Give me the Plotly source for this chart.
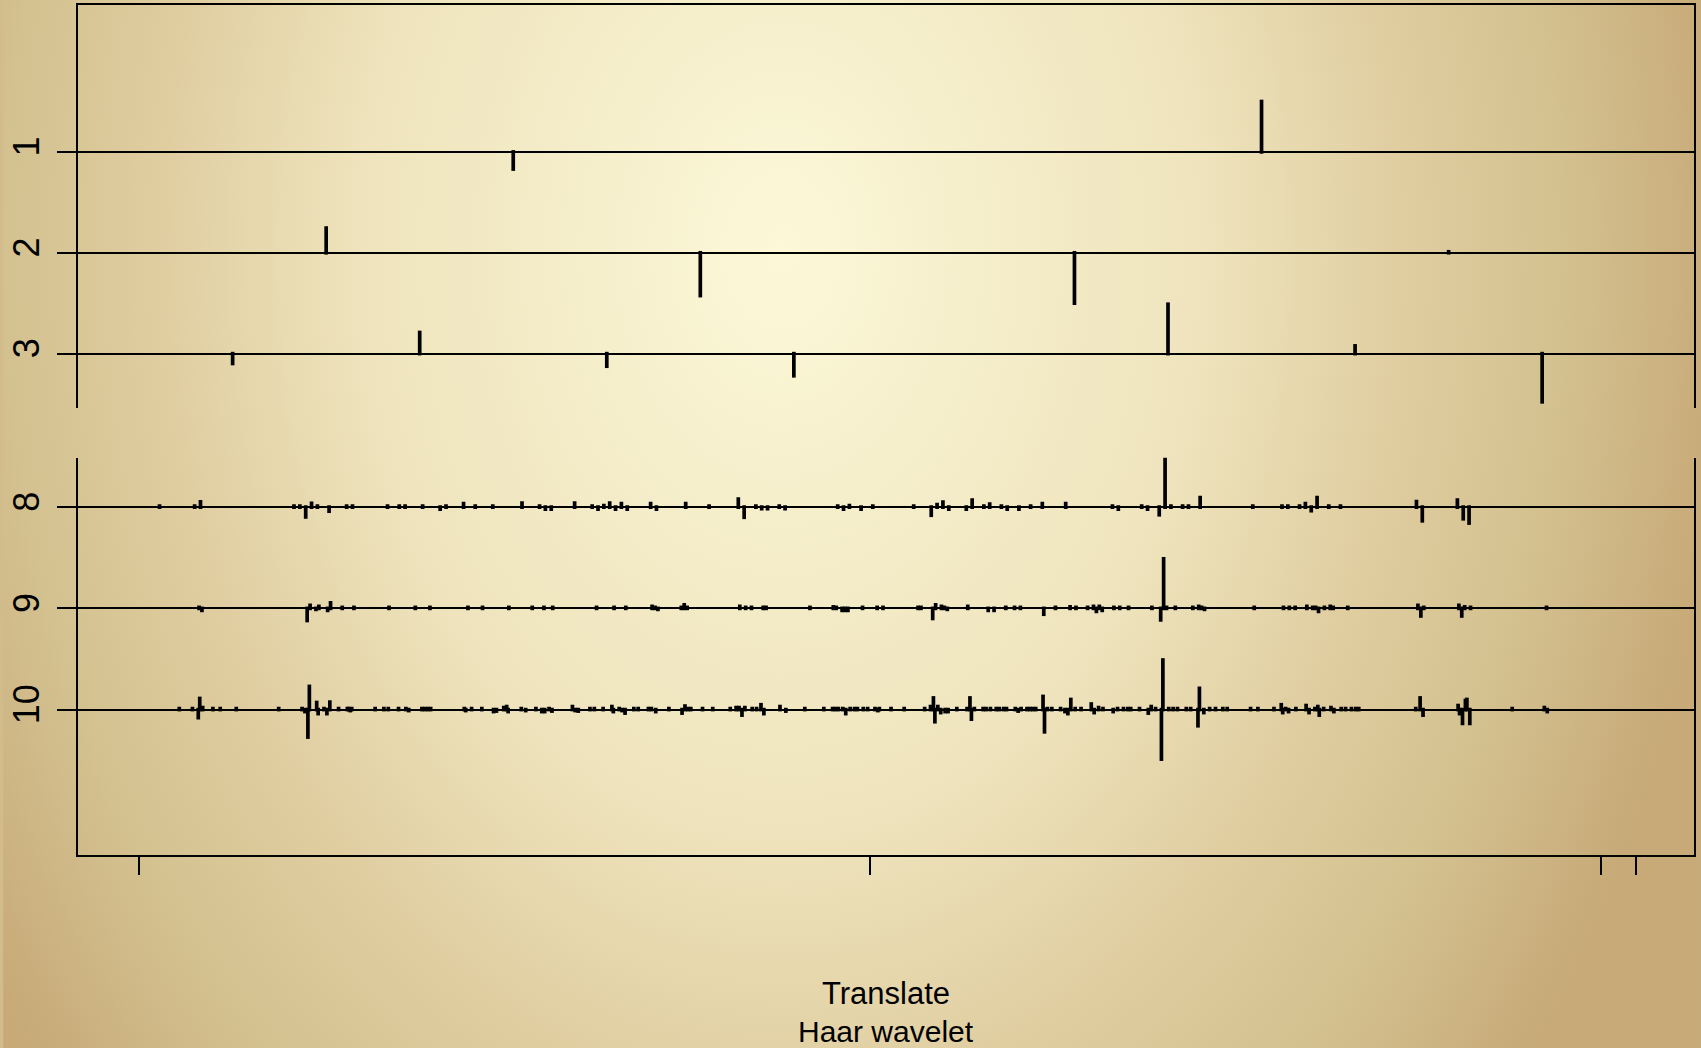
import base64
import plotly.graph_objects as go

# ---------------- data (translate position, coefficient value in level units) -------------
levels_top = [1, 2, 3]
levels_bottom = [8, 9, 10]
tick_translate = [0, 500, 1000, 1024]

lev1_pos = [256, 768]
lev1_val = [-0.17, 0.50]

lev2_pos = [128, 384, 640, 896]
lev2_val = [0.245, -0.425, -0.50, 0.01]

lev3_pos = [64, 192, 320, 448, 576, 704, 832, 960]
lev3_val = [-0.098, 0.21, -0.125, -0.22, 0.0, 0.49, 0.077, -0.478]

lev8_pos = [14, 38, 42, 106, 110, 114, 118, 122, 130, 142, 146, 170, 178, 182, 194,
            206, 210, 222, 230, 242, 262, 274, 278, 282, 298, 310, 314, 318, 322, 326, 330, 334, 350, 354, 374, 390,
            410, 414, 422, 426, 430, 438, 442, 478, 482, 486, 494, 502, 530, 542, 546, 550, 554, 566, 570, 578, 582,
            590, 594, 602, 610, 618, 634, 666, 670, 686, 690, 698, 702, 706, 714, 718, 726, 762, 782,
            786, 794, 798, 802, 806, 814, 822, 874, 878, 902, 906, 910]
lev8_val = [0.01, 0.01, 0.054, 0.01, 0.01, -0.097, 0.038, 0.01, -0.04, 0.01, 0.01, 0.01, 0.01, 0.01, 0.01,
            -0.02, 0.01, 0.035, 0.01, 0.01, 0.04, 0.01, -0.02, -0.02, 0.04, 0.01, -0.02, 0.015, 0.04, -0.02, 0.035, -0.02, 0.035, -0.02, 0.035, 0.01,
            0.08, -0.1, 0.01, -0.015, -0.015, 0.01, -0.015, 0.01, -0.02, 0.015, -0.02, 0.01, 0.01, -0.08, 0.025, 0.05, -0.02, -0.02, 0.07, 0.01, 0.03,
            0.01, -0.02, -0.02, 0.01, 0.035, 0.035, 0.01, -0.02, 0.01, -0.02, -0.075, 0.7, 0.01, 0.01, 0.01, 0.095, 0.01, 0.01,
            0.01, 0.01, 0.035, -0.035, 0.095, 0.01, 0.01, 0.055, -0.135, 0.07, -0.115, -0.157]

lev9_pos = [41, 43, 115, 117, 121, 123, 129, 131, 139, 147, 171, 189,
            199, 225, 235, 253, 269, 277, 283, 313, 325, 333, 351, 353, 355, 371, 373, 375,
            411, 415, 419, 427, 429, 459, 475, 477, 481, 483, 485, 495, 505, 509, 533, 535, 543, 545, 549, 551, 553, 567, 581, 585,
            593, 599, 603, 619, 627, 637, 641, 649, 653, 655, 657, 659, 667, 671, 677, 693, 699, 701, 703, 709, 721, 725, 727, 729, 763, 783,
            787, 791, 799, 803, 805, 807, 811, 815, 817, 827, 875, 877, 879, 903, 905, 907, 911, 963]
lev9_val = [0.01, -0.02, -0.12, 0.03, -0.01, 0.02, -0.02, 0.055, 0.01, 0.01, 0.01, 0.01,
            0.01, 0.01, 0.01, 0.01, 0.01, 0.01, 0.01, 0.01, 0.01, 0.01, 0.02, 0.01, -0.01, 0.01, 0.035, 0.01,
            0.02, 0.01, 0.01, 0.01, 0.01, 0.01, 0.015, 0.01, -0.02, -0.02, -0.02, 0.01, 0.01, 0.01, 0.01, 0.01, -0.1, 0.035, 0.02, 0.01, -0.01, 0.02, -0.02, -0.02,
            0.01, 0.01, 0.01, -0.058, 0.01, 0.015, 0.01, 0.01, 0.02, -0.03, 0.02, -0.02, 0.01, 0.01, 0.01, 0.01, -0.114, 0.49, 0.01, 0.01, 0.01, 0.02, 0.01, -0.01, 0.01, 0.01,
            0.01, 0.01, 0.02, 0.01, 0.01, -0.03, 0.01, 0.02, 0.01, 0.01, 0.03, -0.075, 0.01, 0.03, -0.075, 0.015, 0.01, 0.01]

lev10_pos = [27.5, 36.5, 40.5, 41.5, 43.5, 50.5, 55.5, 66.5, 95.5, 111.5, 113.5, 115.5, 116.5, 121.5, 122.5, 126.5,
             128.5, 130.5, 136.5, 142.5, 143.5, 144.5, 145.5, 161.5, 167.5, 170.5, 177.5, 182.5, 184.5, 193.5, 195.5, 197.5,
             199.5, 222.5, 223.5, 227.5, 234.5, 242.5, 244.5, 249.5, 251.5, 252.5, 261.5, 264.5, 271.5, 275.5, 277.5, 280.5,
             282.5, 296.5, 298.5, 300.5, 308.5, 311.5, 317.5, 323.5, 324.5, 328.5, 330.5, 332.5, 338.5, 341.5, 348.5, 350.5,
             353.5, 362.5, 371.5, 373.5, 375.5, 377.5, 385.5, 392.5,
             404.5, 408.5, 410.5, 412.5, 414.5, 419.5, 422.5, 425.5, 427.5, 438.5, 442.5, 455.5, 468.5, 474.5, 476.5, 478.5,
             481.5, 483.5, 486.5, 489.5, 491.5, 495.5, 498.5, 503.5, 505.5, 506.5, 514.5, 523.5, 537.5, 541.5, 543.5, 544.5,
             546.5, 548.5, 551.5, 553.5, 559.5, 566.5, 568.5, 569.5, 571.5, 577.5, 579.5, 582.5, 586.5,
             588.5, 591.5, 593.5, 599.5, 601.5, 603.5, 607.5, 609.5, 611.5, 613.5, 618.5, 619.5, 621.5, 624.5, 630.5, 633.5,
             635.5, 637.5, 640.5, 644.5, 651.5, 653.5, 656.5, 659.5, 666.5, 669.5, 673.5, 676.5, 678.5, 684.5, 690.5, 692.5,
             695.5, 699.5, 700.5, 704.5, 707.5, 710.5, 716.5, 719.5, 724.5, 725.5, 728.5, 732.5, 736.5, 741.5, 744.5, 760.5,
             765.5, 776.5, 781.5, 782.5,
             784.5, 786.5, 791.5, 798.5, 800.5, 804.5, 806.5, 807.5, 810.5, 815.5, 817.5, 822.5, 825.5, 829.5, 832.5, 834.5,
             873.5, 876.5, 878.5, 902.5, 903.5, 905.5, 907.5, 908.5, 910.5, 939.5, 961.5, 963.5]
lev10_val = [0.01, 0.01, -0.08, 0.11, 0.02, 0.01, 0.01, 0.01, 0.01, 0.01, -0.02, -0.272, 0.229, 0.07, -0.04, 0.01,
             -0.04, 0.074, 0.01, 0.01, 0.01, -0.01, 0.01, 0.01, 0.01, 0.01, 0.01, 0.01, -0.01, 0.01, 0.01, 0.01,
             0.01, 0.01, -0.01, 0.01, 0.01, -0.02, -0.015, 0.02, 0.03, -0.02, 0.01, -0.01, 0.01, -0.02, -0.02, 0.01,
             -0.015, 0.03, -0.01, -0.015, 0.01, 0.01, 0.01, 0.03, -0.02, 0.01, -0.01, -0.035, 0.01, 0.01, 0.01, 0.01,
             -0.02, 0.01, -0.035, 0.035, 0.01, 0.01, 0.01, 0.01,
             0.01, 0.02, 0.02, -0.055, 0.02, 0.01, 0.01, 0.048, -0.04, 0.03, -0.015, 0.01, 0.01, 0.01, 0.01, 0.01,
             0.01, -0.04, 0.01, 0.01, 0.01, 0.01, 0.01, 0.01, -0.01, 0.01, 0.01, 0.01, 0.01, 0.03, 0.115, -0.12,
             0.03, -0.03, -0.02, -0.02, 0.01, 0.01, 0.115, -0.095, 0.01, 0.01, 0.01, 0.01, 0.01,
             0.01, 0.01, 0.01, 0.01, -0.015, 0.01, 0.01, 0.01, 0.01, 0.01, 0.13, -0.22, 0.01, 0.01, 0.01, -0.02,
             -0.04, 0.1, 0.01, 0.01, 0.055, -0.03, 0.02, 0.01, -0.02, 0.01, 0.01, 0.01, 0.01, 0.01, -0.035, 0.03,
             0.01, -0.49, 0.49, 0.01, 0.01, 0.01, 0.01, 0.01, -0.16, 0.21, -0.03, 0.01, 0.01, 0.01, 0.01, 0.01,
             0.01, 0.01, 0.048, -0.03,
             0.01, -0.02, 0.01, 0.04, -0.03, 0.01, 0.03, -0.055, 0.01, 0.02, -0.02, 0.01, 0.01, 0.01, 0.01, 0.01,
             0.01, 0.115, -0.055, 0.04, -0.04, -0.137, 0.09, 0.1, -0.137, 0.01, 0.02, -0.02]

x_title = "Translate"
sub_title = "Haar wavelet"

# ---------------- build segments (R style segments with round ends) -------------
CAP = 0.018  # half line width, in level units


def segments(groups):
    xs, ys = [], []
    for lev, pos, val in groups:
        for p, v in zip(pos, val):
            if v == 0:
                continue
            s = 1 if v > 0 else -1
            xs += [p, p, None]
            ys += [lev + s * CAP, lev - v - s * CAP, None]
    return xs, ys


xt, yt = segments([(1, lev1_pos, lev1_val), (2, lev2_pos, lev2_val), (3, lev3_pos, lev3_val)])
xb, yb = segments([(8, lev8_pos, lev8_val), (9, lev9_pos, lev9_val), (10, lev10_pos, lev10_val)])

FONT = "Liberation Sans, Arial, Helvetica, sans-serif"

fig = go.Figure()
fig.add_trace(go.Scatter(x=xb, y=yb, mode="lines", line=dict(color="black", width=3.7),
                         xaxis="x", yaxis="y", hoverinfo="skip", showlegend=False))
fig.add_trace(go.Scatter(x=xt, y=yt, mode="lines", line=dict(color="black", width=3.7),
                         xaxis="x2", yaxis="y2", hoverinfo="skip", showlegend=False))

yaxis_common = dict(
    showgrid=True, gridcolor="black", gridwidth=2.2,
    ticks="outside", ticklen=19, tickwidth=2, tickcolor="black",
    tickangle=-90, tickfont=dict(family=FONT, size=36, color="black"),
    ticklabelstandoff=4,
    showline=True, mirror=True, linecolor="black", linewidth=2.2,
    zeroline=False, fixedrange=True,
)

xr = [-41.8, 1063.9]

fig.update_layout(
    width=1701, height=1048,
    margin=dict(l=75, r=7, t=5, b=193, pad=0),
    paper_bgcolor="#D2BC8C",
    plot_bgcolor="rgba(0,0,0,0)",
    hovermode=False,
    xaxis=dict(range=xr, anchor="y", domain=[0, 1],
               tickvals=tick_translate, ticktext=["" for _ in tick_translate],
               ticks="outside", ticklen=18, tickwidth=2, tickcolor="black",
               showline=True, linecolor="black", linewidth=2.2, mirror=False,
               showgrid=False, zeroline=False, fixedrange=True),
    xaxis2=dict(range=xr, anchor="y2", matches="x", side="top",
                showline=True, linecolor="black", linewidth=2.2, mirror=False,
                ticks="", showticklabels=False, showgrid=False, zeroline=False, fixedrange=True),
    yaxis=dict(domain=[0, 0.4673], range=[11.437, 7.512],
               tickvals=levels_bottom, ticktext=[str(v) for v in levels_bottom], **yaxis_common),
    yaxis2=dict(domain=[0.5259, 1], range=[3.539, -0.4566],
                tickvals=levels_top, ticktext=[str(v) for v in levels_top], **yaxis_common),
    annotations=[
        dict(text=x_title, xref="paper", yref="paper", x=0.5, y=-0.1635,
             xanchor="center", yanchor="middle", showarrow=False,
             font=dict(family=FONT, size=31, color="black")),
        dict(text=sub_title, xref="paper", yref="paper", x=0.5, y=-0.2080,
             xanchor="center", yanchor="middle", showarrow=False,
             font=dict(family=FONT, size=30, color="black")),
    ],
)

svg = """<svg xmlns="http://www.w3.org/2000/svg" width="1701" height="1048" viewBox="0 0 1701 1048" preserveAspectRatio="none">
<defs><radialGradient id="g" gradientUnits="userSpaceOnUse" cx="780" cy="250" r="950"
 gradientTransform="translate(780 250) scale(1 1.37) translate(-780 -250)">
<stop offset="0" stop-color="#FCF8D8"/>
<stop offset="0.45" stop-color="#EEE3BC"/>
<stop offset="0.65" stop-color="#E0CEA1"/>
<stop offset="0.82" stop-color="#D4C190"/>
<stop offset="1" stop-color="#C7AA78"/>
</radialGradient></defs>
<rect x="0" y="0" width="1701" height="1048" fill="url(#g)"/></svg>"""
src = "data:image/svg+xml;base64," + base64.b64encode(svg.encode()).decode()
fig.add_layout_image(dict(source=src, xref="paper", yref="paper",
                          x=-75 / 1619, y=1 + 5 / 850, sizex=1701 / 1619, sizey=1048 / 850,
                          xanchor="left", yanchor="top", sizing="stretch", layer="below", opacity=1))

fig.write_html("out.html", config={"displayModeBar": False},
               post_script="document.body.style.margin='0';document.body.style.overflow='hidden';")
